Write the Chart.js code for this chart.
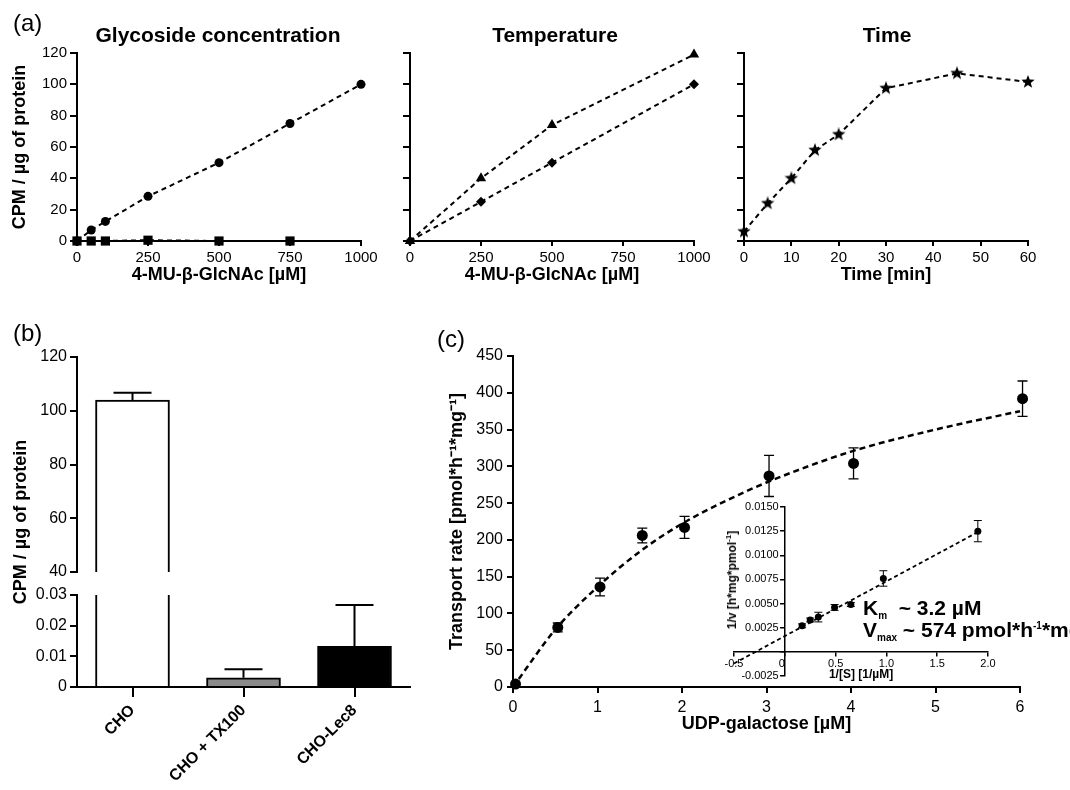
<!DOCTYPE html>
<html>
<head>
<meta charset="utf-8">
<script src="https://cdn.jsdelivr.net/npm/chart.js@4.4.1/dist/chart.umd.min.js"></script>
<style>
  body { margin: 0; background: #fff; }
  #fig { position: relative; width: 1070px; height: 790px; overflow: hidden; background: #fff;
         font-family: 'Liberation Sans', Arial, sans-serif; color: #000; }
  #fig canvas { position: absolute; left: 0; top: 0; }
  .lbl { position: absolute; font-size: 24px; line-height: 24px; }
  .ttl { position: absolute; top: 23px; width: 300px; text-align: center; font-weight: bold; font-size: 21px; line-height: 24px; }
  .rot { position: absolute; transform: translate(-50%, -50%) rotate(-90deg); font-weight: bold; white-space: nowrap; }
  .sb { font-size: 10px; position: relative; top: 4px; }
  .sp { font-size: 10px; position: relative; top: -8px; }
  .sp2 { font-size: 8px; position: relative; top: -5px; }
</style>
</head>
<body>
<div id="fig">
  <canvas id="a1" width="1070" height="790"></canvas>
  <canvas id="a2" width="1070" height="790"></canvas>
  <canvas id="a3" width="1070" height="790"></canvas>
  <canvas id="bTop" width="1070" height="790"></canvas>
  <canvas id="bBot" width="1070" height="790"></canvas>
  <canvas id="cMain" width="1070" height="790"></canvas>
  <canvas id="cInset" width="1070" height="790"></canvas>

  <div class="lbl" style="left:13px;top:11px">(a)</div>
  <div class="lbl" style="left:13px;top:321px">(b)</div>
  <div class="lbl" style="left:437px;top:327px">(c)</div>
  <div class="ttl" style="left:68px">Glycoside concentration</div>
  <div class="ttl" style="left:405px">Temperature</div>
  <div class="ttl" style="left:737px">Time</div>
  <div class="rot" style="left:20px;top:522px;font-size:18px">CPM / µg of protein</div>
  <div class="rot" style="left:732px;top:580px;font-size:12px">1/v [h*mg*pmol<span class="sp2">-1</span>]</div>
  <div style="position:absolute;left:863px;top:599px;font-weight:bold;font-size:21px;line-height:18px;white-space:nowrap">K<span class="sb">m</span>&nbsp;&nbsp;~ 3.2 µM<br>V<span class="sb">max</span>&nbsp;~ 574 pmol*h<span class="sp">-1</span>*mg<span class="sp">-1</span></div>
</div>

<script>
// (a) glycoside concentration
var glyConc = [0, 50, 100, 250, 500, 750, 1000];
var glyCells = [0, 7, 12.5, 28.5, 50, 75, 100];
var glyCtrlConc = [0, 50, 100, 250, 500, 750];
var glyCtrl = [0, 0, 0, 0.5, 0, 0];
// (a) temperature
var tempConc = [0, 250, 500, 1000];
var tempHigh = [0, 40, 74, 119];
var tempLow = [0, 25, 50, 100];
// (a) time
var timeMin = [0, 5, 10, 15, 20, 30, 45, 60];
var timeCpm = [6, 24, 40, 58, 68, 97.5, 107, 101.5];
var cpmTicks = [0, 20, 40, 60, 80, 100, 120];
var concTicks = [0, 250, 500, 750, 1000];
var timeTicks = [0, 10, 20, 30, 40, 50, 60];

// (b) cell lines, broken axis
var cellLines = ['CHO', 'CHO + TX100', 'CHO-Lec8'];
var cellMean = [104, 0.003, 0.0133];
var cellErr = [2.7, 0.0028, 0.0134];
var cellFill = ['#ffffff', '#8a8a8a', '#000000'];
var bTopTicks = [40, 60, 80, 100, 120];
var bBotTicks = [0, 0.01, 0.02, 0.03];

// (c) transport rate
var udpConc = [0.03, 0.53, 1.03, 1.53, 2.03, 3.03, 4.03, 6.03];
var udpRate = [4, 81, 136, 206, 217, 287, 304, 392];
var udpErr = [0, 6, 12, 10, 15, 28, 21, 24];
var fitConc = [0, 0.5, 1, 1.5, 2, 2.5, 3, 4, 5, 6];
var fitRate = [0, 78, 136, 184, 222, 252, 278, 320, 350, 375];
var rateTicks = [0, 50, 100, 150, 200, 250, 300, 350, 400, 450];
var udpTicks = [0, 1, 2, 3, 4, 5, 6];
// (c) inset, double reciprocal
var invS = [0.17, 0.25, 0.33, 0.49, 0.65, 0.97, 1.9];
var invV = [0.0027, 0.0033, 0.0036, 0.0046, 0.0049, 0.0076, 0.0125];
var invErr = [0.0002, 0.0002, 0.0005, 0.0003, 0.0002, 0.0008, 0.0011];
var invFitS = [-0.5, 1.9];
var invFitV = [-0.0012, 0.0124];
var invSTicks = [-0.5, 0, 0.5, 1, 1.5, 2];
var invVTicks = [-0.0025, 0, 0.0025, 0.005, 0.0075, 0.01, 0.0125, 0.015];

Chart.defaults.font.family = "'Liberation Sans', Arial, sans-serif";
Chart.defaults.color = '#000';

// error bars drawn from dataset.errors through the y scale
Chart.register({
    id: 'errorBars',
    afterDatasetsDraw: function (chart) {
        var ctx = chart.ctx;
        var area = chart.chartArea;
        chart.data.datasets.forEach(function (ds, i) {
            if (!ds.errors) return;
            var meta = chart.getDatasetMeta(i);
            var ys = chart.scales[meta.yAxisID];
            ctx.save();
            ctx.beginPath();
            ctx.rect(0, area.top - 1, chart.width, area.bottom - area.top + 2);
            ctx.clip();
            ctx.strokeStyle = '#000';
            ctx.lineWidth = ds.errWidth || 1;
            meta.data.forEach(function (el, j) {
                var e = ds.errors[j];
                if (!e) return;
                var d = ds.data[j];
                var v = (d !== null && typeof d === 'object') ? d.y : d;
                var top = ys.getPixelForValue(v + e);
                var bot = ds.errUp ? ys.getPixelForValue(v) : ys.getPixelForValue(v - e);
                var c = ds.capHalf || 4;
                ctx.beginPath();
                ctx.moveTo(el.x, bot); ctx.lineTo(el.x, top);
                ctx.moveTo(el.x - c, top); ctx.lineTo(el.x + c, top);
                if (!ds.errUp) { ctx.moveTo(el.x - c, bot); ctx.lineTo(el.x + c, bot); }
                ctx.stroke();
            });
            ctx.restore();
        });
    }
});

function pts(xs, ys) {
    return xs.map(function (x, i) { return {x: x, y: ys[i]}; });
}

function starImage(d) {
    var c = document.createElement('canvas');
    c.width = d; c.height = d;
    var g = c.getContext('2d');
    var R = d / 2, r = R * 0.42;
    g.beginPath();
    for (var i = 0; i < 10; i++) {
        var a = -Math.PI / 2 + i * Math.PI / 5;
        var rr = i % 2 ? r : R;
        g.lineTo(R + rr * Math.cos(a), R + rr * Math.sin(a));
    }
    g.closePath();
    g.fillStyle = '#000';
    g.fill();
    return c;
}

function linAxis(o) {
    var s = {
        type: 'linear',
        min: o.ticks[0],
        max: o.ticks[o.ticks.length - 1],
        afterBuildTicks: function (sc) { sc.ticks = o.ticks.map(function (v) { return {value: v}; }); },
        border: {display: true, color: '#000', width: o.lw || 2},
        grid: {drawOnChartArea: false, drawTicks: true, tickLength: o.tl, color: '#000', lineWidth: o.lw || 2},
        ticks: {padding: o.pad, color: '#000', font: {size: o.fs},
                callback: o.fmt || function (v) { return String(v); }},
        title: {display: !!o.title, text: o.title || '', color: '#000',
                font: {size: o.tfs || 18, weight: 'bold'}, padding: 0}
    };
    if (o.pos) s.position = o.pos;
    if (o.w != null) s.afterFit = function (sc) { sc.width = o.w; };
    if (o.h != null) s.afterFit = function (sc) { sc.height = o.h; };
    return s;
}

// chart area [left, top, right, bottom] on the 1070x790 page
function pad(area, yw, xh) {
    return {left: area[0] - yw, top: area[1], right: 1070 - area[2], bottom: 790 - area[3] - xh};
}

function opts(padding, scales) {
    return {
        responsive: false, animation: false, devicePixelRatio: 1,
        layout: {padding: padding},
        plugins: {legend: {display: false}, tooltip: {enabled: false}},
        scales: scales
    };
}

function lineSet(data, style, radius, extra) {
    var s = {
        data: data, borderColor: '#000', borderWidth: 2, borderDash: [5, 4],
        pointStyle: style, pointRadius: radius, pointHoverRadius: radius,
        pointBackgroundColor: '#000', pointBorderColor: '#000', pointBorderWidth: 0,
        tension: 0, clip: false, fill: false
    };
    for (var k in extra || {}) s[k] = extra[k];
    return s;
}

var noLabel = function () { return ''; };
var concTitle = '4-MU-β-GlcNAc [µM]';

new Chart(document.getElementById('a1'), {
    type: 'line',
    data: {datasets: [
        lineSet(pts(glyConc, glyCells), 'circle', 4.5),
        lineSet(pts(glyCtrlConc, glyCtrl), 'rect', 6.5)
    ]},
    options: opts(pad([77, 53, 361, 241], 68, 45), {
        x: linAxis({ticks: concTicks, tl: 5, pad: 3, fs: 15, title: concTitle, h: 45}),
        y: linAxis({ticks: cpmTicks, tl: 7, pad: 3, fs: 15, title: 'CPM / µg of protein', w: 68})
    })
});

new Chart(document.getElementById('a2'), {
    type: 'line',
    data: {datasets: [
        lineSet(pts(tempConc, tempHigh), 'triangle', 6),
        lineSet(pts(tempConc, tempLow), 'rectRot', 5)
    ]},
    options: opts(pad([410, 53, 694, 241], 60, 45), {
        x: linAxis({ticks: concTicks, tl: 5, pad: 3, fs: 15, title: concTitle, h: 45}),
        y: linAxis({ticks: cpmTicks, tl: 7, pad: 3, fs: 15, fmt: noLabel, w: 60})
    })
});

new Chart(document.getElementById('a3'), {
    type: 'line',
    data: {datasets: [
        lineSet(pts(timeMin, timeCpm), starImage(14), 6)
    ]},
    options: opts(pad([744, 53, 1028, 241], 60, 45), {
        x: linAxis({ticks: timeTicks, tl: 5, pad: 3, fs: 15, title: 'Time [min]', h: 45}),
        y: linAxis({ticks: cpmTicks, tl: 7, pad: 3, fs: 15, fmt: noLabel, w: 60})
    })
});

function barSet() {
    return {
        data: cellMean, backgroundColor: cellFill, borderColor: '#000', borderWidth: 2,
        borderSkipped: 'bottom', barThickness: 74, clip: 0,
        errors: cellErr, errUp: true, capHalf: 19, errWidth: 2
    };
}

var catAxis = {
    type: 'category', offset: true,
    border: {display: true, color: '#000', width: 2},
    grid: {drawOnChartArea: false, drawTicks: true, tickLength: 10, color: '#000', lineWidth: 2, offset: false},
    ticks: {autoSkip: false, minRotation: 45, maxRotation: 45, padding: 4, color: '#000',
            font: {size: 16, weight: 'bold'}},
    afterFit: function (sc) { sc.height = 103; }
};

new Chart(document.getElementById('bTop'), {
    type: 'bar',
    data: {labels: cellLines, datasets: [barSet()]},
    options: opts(pad([77, 357, 410, 572], 60, 0), {
        x: {type: 'category', offset: true, display: false},
        y: linAxis({ticks: bTopTicks, tl: 7, pad: 3, fs: 16, w: 60})
    })
});

new Chart(document.getElementById('bBot'), {
    type: 'bar',
    data: {labels: cellLines, datasets: [barSet()]},
    options: opts(pad([77, 595, 410, 687], 60, 103), {
        x: catAxis,
        y: linAxis({ticks: bBotTicks, tl: 7, pad: 3, fs: 16, w: 60})
    })
});

new Chart(document.getElementById('cMain'), {
    type: 'line',
    data: {datasets: [
        lineSet(pts(fitConc, fitRate), 'circle', 0, {borderWidth: 2.5, borderDash: [6, 4], cubicInterpolationMode: 'monotone'}),
        lineSet(pts(udpConc, udpRate), 'circle', 5.5, {showLine: false, errors: udpErr, capHalf: 5, errWidth: 1.3})
    ]},
    options: opts(pad([513, 356, 1020, 687], 67, 48), {
        x: linAxis({ticks: udpTicks, tl: 6, pad: 5, fs: 16, title: 'UDP-galactose [µM]', h: 48}),
        y: linAxis({ticks: rateTicks, tl: 6, pad: 4, fs: 16, title: 'Transport rate [pmol*h⁻¹*mg⁻¹]', w: 67})
    })
});

new Chart(document.getElementById('cInset'), {
    type: 'line',
    data: {datasets: [
        lineSet(pts(invFitS, invFitV), 'circle', 0, {borderWidth: 1.8, borderDash: [4, 3]}),
        lineSet(pts(invS, invV), 'circle', 3.5, {showLine: false, errors: invErr, capHalf: 4, errWidth: 1})
    ]},
    options: opts({left: 734, top: 507, right: 82, bottom: 114}, {
        x: linAxis({ticks: invSTicks, tl: 4, pad: 2, fs: 11, lw: 1.5, pos: {y: 0}, h: 30,
                    title: '1/[S] [1/µM]', tfs: 12,
                    fmt: function (v) { return v === 0 ? '0  ' : v.toFixed(1); }}),
        y: linAxis({ticks: invVTicks, tl: 4, pad: 2, fs: 11, lw: 1.5, pos: {x: 0}, w: 60,
                    fmt: function (v) { return v === 0 ? '' : v.toFixed(4) + '  '; }})
    })
});
</script>
</body>
</html>
